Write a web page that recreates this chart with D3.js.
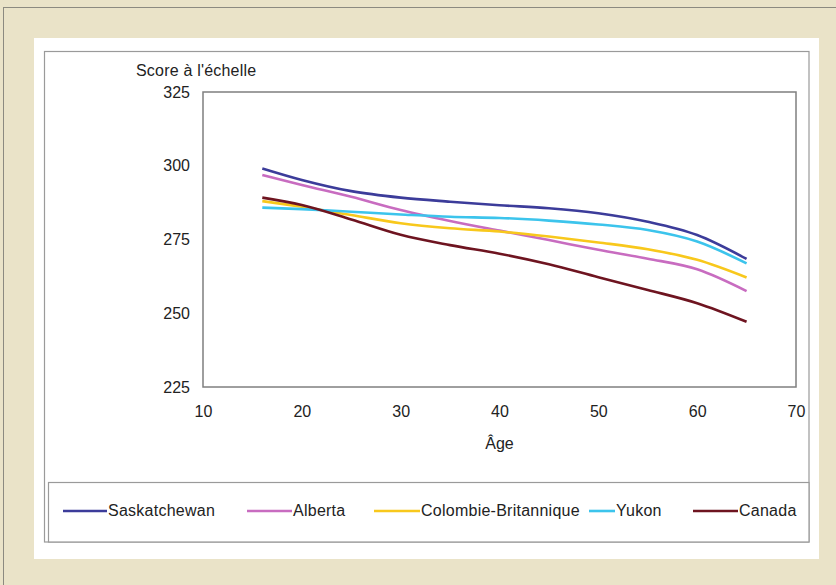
<!DOCTYPE html>
<html>
<head>
<meta charset="utf-8">
<script src="https://cdn.jsdelivr.net/npm/d3@7"></script>
<style>
  html, body { margin: 0; padding: 0; background: #EAE3C8; }
  svg { display: block; font-family: "Liberation Sans", Arial, sans-serif; }
</style>
</head>
<body>
<svg id="chart" width="836" height="585"></svg>
<script>
// ---- data ----
const ages = [16, 20, 25, 30, 35, 40, 45, 50, 55, 60, 65];
const seriesNames = ["Saskatchewan", "Alberta", "Colombie-Britannique", "Yukon", "Canada"];
const saskatchewan = [299.1, 295.2, 291.4, 289.2, 287.8, 286.6, 285.6, 283.9, 281.0, 276.5, 268.4];
const alberta      = [296.9, 293.5, 289.5, 285.0, 281.3, 278.0, 274.8, 271.5, 268.5, 264.9, 257.5];
const colombieBritannique = [288.0, 286.1, 283.3, 280.5, 278.8, 277.7, 276.0, 274.0, 271.7, 268.1, 262.1];
const yukon        = [285.8, 285.3, 284.4, 283.5, 282.7, 282.3, 281.4, 280.1, 278.2, 274.3, 266.9];
const canada       = [289.2, 286.7, 281.8, 276.6, 273.1, 270.2, 266.6, 262.2, 257.9, 253.4, 247.1];
const xTicks = [10, 20, 30, 40, 50, 60, 70];
const yTicks = [225, 250, 275, 300, 325];
const yTitle = "Score à l'échelle";
const xTitle = "Âge";

const seriesValues = [saskatchewan, alberta, colombieBritannique, yukon, canada];
const colors = ["#3C3C9A", "#C86CC0", "#F8C81C", "#3CC4EC", "#6E1420"];

// ---- layout ----
const svg = d3.select("#chart");
const plot = { left: 203, top: 92, right: 796, bottom: 387 };

// background & frames
svg.append("rect").attr("x", 0).attr("y", 0).attr("width", 836).attr("height", 585).attr("fill", "#EAE3C8");
svg.append("rect").attr("x", 3.5).attr("y", 7.5).attr("width", 850).attr("height", 600)
  .attr("fill", "none").attr("stroke", "#8c8a80").attr("stroke-width", 1);
svg.append("rect").attr("x", 34).attr("y", 38).attr("width", 785).attr("height", 521).attr("fill", "#ffffff");
svg.append("rect").attr("x", 44.5).attr("y", 51.5).attr("width", 764.5).attr("height", 490.5)
  .attr("fill", "#ffffff").attr("stroke", "#9a9a9a").attr("stroke-width", 1.2);

const x = d3.scaleLinear().domain([10, 70]).range([plot.left, plot.right]);
const y = d3.scaleLinear().domain([225, 325]).range([plot.bottom, plot.top]);

// axes (labels only)
const xAxis = svg.append("g").attr("transform", `translate(0,${plot.bottom})`)
  .call(d3.axisBottom(x).tickValues(xTicks).tickSize(0).tickPadding(19).tickFormat(d3.format("d")));
xAxis.select(".domain").remove();
xAxis.selectAll("text").attr("font-size", 16).attr("fill", "#222").attr("font-family", "Liberation Sans, Arial, sans-serif");

const yAxis = svg.append("g").attr("transform", `translate(${plot.left},0)`)
  .call(d3.axisLeft(y).tickValues(yTicks).tickSize(0).tickPadding(13).tickFormat(d3.format("d")));
yAxis.select(".domain").remove();
yAxis.selectAll("text").attr("font-size", 16).attr("fill", "#222").attr("font-family", "Liberation Sans, Arial, sans-serif");

// plot box
svg.append("rect").attr("x", plot.left).attr("y", plot.top)
  .attr("width", plot.right - plot.left).attr("height", plot.bottom - plot.top)
  .attr("fill", "none").attr("stroke", "#7f7f7f").attr("stroke-width", 1.5);

// titles
svg.append("text").attr("x", 136).attr("y", 76).attr("font-size", 16).attr("letter-spacing", 0.2)
  .attr("fill", "#222").text(yTitle);
svg.append("text").attr("x", (plot.left + plot.right) / 2).attr("y", 449)
  .attr("text-anchor", "middle").attr("font-size", 16).attr("fill", "#222").text(xTitle);

// lines
const line = d3.line().x(d => x(d[0])).y(d => y(d[1])).curve(d3.curveMonotoneX);
seriesValues.forEach((vals, i) => {
  svg.append("path").datum(ages.map((a, j) => [a, vals[j]]))
    .attr("d", line).attr("fill", "none").attr("stroke", colors[i])
    .attr("stroke-width", 2.6).attr("stroke-linejoin", "round");
});

// legend
svg.append("rect").attr("x", 48.5).attr("y", 482.5).attr("width", 760.5).attr("height", 59.5)
  .attr("fill", "#ffffff").attr("stroke", "#9a9a9a").attr("stroke-width", 1.2);
const legendX = [63, 247, 374, 589, 693];
const legendLen = [44, 45, 46, 26, 45];
seriesNames.forEach((name, i) => {
  const g = svg.append("g");
  g.append("line").attr("x1", legendX[i]).attr("x2", legendX[i] + legendLen[i])
    .attr("y1", 511).attr("y2", 511).attr("stroke", colors[i]).attr("stroke-width", 2.6);
  g.append("text").attr("x", legendX[i] + legendLen[i] + 1).attr("y", 516)
    .attr("font-size", 16).attr("letter-spacing", 0.25).attr("fill", "#222").text(name);
});
</script>
</body>
</html>
